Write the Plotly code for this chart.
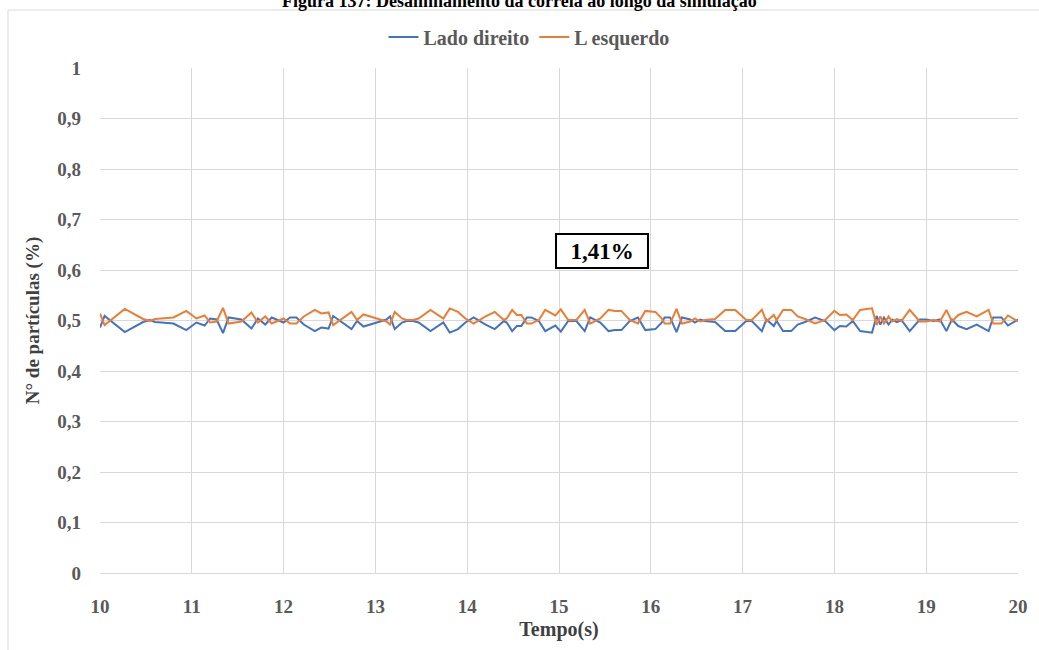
import plotly.graph_objects as go

# Time samples (s)
tempo = [10.00, 10.05, 10.27, 10.47, 10.54, 10.60, 10.80, 10.94, 11.05, 11.14,
         11.20, 11.27, 11.34, 11.40, 11.54, 11.65, 11.72, 11.80, 11.87, 12.00,
         12.07, 12.14, 12.22, 12.34, 12.41, 12.49, 12.54, 12.74, 12.80, 12.87,
         12.98, 13.12, 13.16, 13.21, 13.29, 13.34, 13.41, 13.47, 13.60, 13.74,
         13.81, 13.90, 13.98, 14.07, 14.20, 14.30, 14.40, 14.43, 14.49, 14.54,
         14.59, 14.65, 14.70, 14.78, 14.85, 14.96, 15.02, 15.10, 15.19, 15.28,
         15.34, 15.45, 15.54, 15.61, 15.68, 15.77, 15.86, 15.94, 16.05, 16.12,
         16.15, 16.21, 16.28, 16.34, 16.43, 16.48, 16.54, 16.59, 16.70, 16.81,
         16.92, 17.04, 17.10, 17.21, 17.26, 17.34, 17.37, 17.44, 17.53, 17.60,
         17.68, 17.79, 17.90, 18.00, 18.06, 18.13, 18.20, 18.28, 18.41, 18.46,
         18.50, 18.54, 18.59, 18.63, 18.68, 18.73, 18.82, 18.93, 19.00, 19.08,
         19.15, 19.22, 19.28, 19.35, 19.44, 19.55, 19.68, 19.73, 19.82, 19.89,
         20.00]

# Fraction of particles on the right side
lado_direito = [0.486, 0.509, 0.477, 0.497, 0.501, 0.497, 0.494, 0.481, 0.496, 0.490,
                0.504, 0.502, 0.475, 0.506, 0.502, 0.484, 0.504, 0.492, 0.506, 0.496,
                0.506, 0.506, 0.492, 0.479, 0.486, 0.484, 0.509, 0.483, 0.499, 0.488,
                0.494, 0.502, 0.508, 0.483, 0.496, 0.499, 0.499, 0.496, 0.479, 0.496,
                0.476, 0.483, 0.496, 0.506, 0.492, 0.483, 0.499, 0.496, 0.479, 0.489,
                0.489, 0.506, 0.506, 0.499, 0.479, 0.490, 0.478, 0.499, 0.499, 0.479,
                0.506, 0.496, 0.479, 0.481, 0.481, 0.499, 0.506, 0.481, 0.483, 0.496,
                0.506, 0.506, 0.477, 0.506, 0.502, 0.496, 0.502, 0.499, 0.497, 0.479,
                0.479, 0.499, 0.499, 0.479, 0.502, 0.489, 0.499, 0.479, 0.479, 0.492,
                0.497, 0.506, 0.499, 0.481, 0.489, 0.488, 0.499, 0.479, 0.476, 0.509,
                0.492, 0.506, 0.492, 0.502, 0.497, 0.501, 0.479, 0.502, 0.502, 0.499,
                0.502, 0.479, 0.502, 0.489, 0.483, 0.492, 0.479, 0.506, 0.506, 0.490,
                0.502]

# Fraction of particles on the left side
l_esquerdo = [0.514, 0.491, 0.523, 0.503, 0.499, 0.503, 0.506, 0.519, 0.504, 0.510,
              0.496, 0.498, 0.525, 0.494, 0.498, 0.516, 0.496, 0.508, 0.494, 0.504,
              0.494, 0.494, 0.508, 0.521, 0.514, 0.516, 0.491, 0.517, 0.501, 0.512,
              0.506, 0.498, 0.492, 0.517, 0.504, 0.501, 0.501, 0.504, 0.521, 0.504,
              0.524, 0.517, 0.504, 0.494, 0.508, 0.517, 0.501, 0.504, 0.521, 0.511,
              0.511, 0.494, 0.494, 0.501, 0.521, 0.510, 0.522, 0.501, 0.501, 0.521,
              0.494, 0.504, 0.521, 0.519, 0.519, 0.501, 0.494, 0.519, 0.517, 0.504,
              0.494, 0.494, 0.523, 0.494, 0.498, 0.504, 0.498, 0.501, 0.503, 0.521,
              0.521, 0.501, 0.501, 0.521, 0.498, 0.511, 0.501, 0.521, 0.521, 0.508,
              0.503, 0.494, 0.501, 0.519, 0.511, 0.512, 0.501, 0.521, 0.524, 0.491,
              0.508, 0.494, 0.508, 0.498, 0.503, 0.499, 0.521, 0.498, 0.498, 0.501,
              0.498, 0.521, 0.498, 0.511, 0.517, 0.508, 0.521, 0.494, 0.494, 0.510,
              0.498]

y_ticks = [0, 0.1, 0.2, 0.3, 0.4, 0.5, 0.6, 0.7, 0.8, 0.9, 1]
y_tick_text = ["0", "0,1", "0,2", "0,3", "0,4", "0,5", "0,6", "0,7", "0,8", "0,9", "1"]
x_ticks = [10, 11, 12, 13, 14, 15, 16, 17, 18, 19, 20]

desvio_label = "1,41%"
desvio_pos = (15.47, 0.637)

SERIF = "Liberation Serif, Times New Roman, serif"
GRAY = "#595959"
GRID = "#d9d9d9"

# Plot-area geometry in page pixels
W, H = 1039, 650
L, R, T, B = 100, 21, 68, 77
PW, PH = W - L - R, H - T - B


def px(x):
    return (x - L) / PW


def py(y):
    return (H - B - y) / PH


fig = go.Figure()
fig.add_trace(go.Scatter(x=tempo, y=lado_direito, mode="lines", name="Lado direito",
                         line=dict(color="#4472C4", width=2)))
fig.add_trace(go.Scatter(x=tempo, y=l_esquerdo, mode="lines", name="L esquerdo",
                         line=dict(color="#ED7D31", width=2)))

fig.update_layout(
    width=W, height=H,
    margin=dict(l=L, r=R, t=T, b=B),
    paper_bgcolor="white", plot_bgcolor="white",
    font=dict(family=SERIF, color=GRAY, size=18),
    legend=dict(orientation="h", x=px(529), xanchor="center", y=py(37), yanchor="middle",
                font=dict(family=SERIF, size=20, color=GRAY, weight="bold"),
                itemwidth=30, tracegroupgap=0),
    xaxis=dict(range=[10, 20], tickvals=x_ticks, showgrid=True, gridcolor=GRID, gridwidth=1,
               showline=True, linecolor=GRID, linewidth=1, zeroline=False,
               ticks="", ticklabelstandoff=16,
               tickfont=dict(family=SERIF, size=19, color=GRAY, weight="bold"),
               title=dict(text="Tempo(s)", standoff=6,
                          font=dict(family=SERIF, size=20, color="#404040", weight="bold"))),
    yaxis=dict(range=[0, 1], tickvals=y_ticks, ticktext=y_tick_text, showgrid=True,
               gridcolor=GRID, gridwidth=1, zeroline=False, showline=False,
               ticks="", ticklabelstandoff=18,
               tickfont=dict(family=SERIF, size=19, color=GRAY, weight="bold"),
               title=dict(text="N° de partículas (%)", standoff=12,
                          font=dict(family=SERIF, size=19, color="#404040", weight="bold"))),
    shapes=[dict(type="rect", xref="paper", yref="paper",
                 x0=px(8), x1=px(W + 5), y0=py(H + 5), y1=py(10),
                 line=dict(color=GRID, width=1), layer="below")],
    annotations=[
        dict(text="<b>Figura 137: Desalinhamento da correia ao longo da simulação</b>",
             xref="paper", yref="paper", x=px(519), y=py(13), xanchor="center",
             yanchor="bottom", showarrow=False,
             font=dict(family=SERIF, size=18, color="black")),
        dict(text="<b>" + desvio_label + "</b>", x=desvio_pos[0], y=desvio_pos[1],
             xref="x", yref="y", showarrow=False,
             font=dict(family=SERIF, size=23, color="black"),
             bordercolor="black", borderwidth=2, borderpad=3, bgcolor="white",
             width=84, height=26),
    ],
)

fig.write_html("out.html")
